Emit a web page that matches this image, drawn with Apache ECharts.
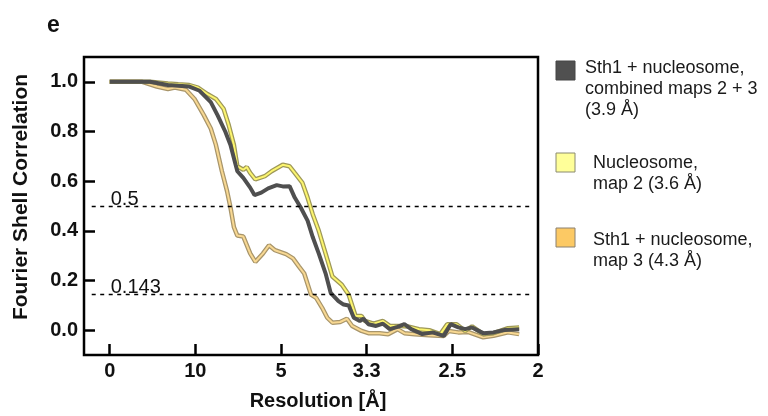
<!DOCTYPE html>
<html>
<head>
<meta charset="utf-8">
<script src="https://cdn.jsdelivr.net/npm/echarts@6.0.0/dist/echarts.min.js"></script>
<style>
  html, body { margin: 0; padding: 0; background: #fff; }
  #fsc { width: 768px; height: 416px; }
</style>
</head>
<body>
<div id="fsc"></div>
<script>
// spatial frequency (1/Å) and FSC values
var freqCombined = [0, 0.047, 0.068, 0.080, 0.093, 0.105, 0.118, 0.126, 0.135, 0.141, 0.147, 0.149, 0.156, 0.164, 0.169, 0.177, 0.185, 0.195, 0.202, 0.210, 0.216, 0.223, 0.231, 0.237, 0.244, 0.252, 0.258, 0.267, 0.273, 0.279, 0.285, 0.292, 0.296, 0.302, 0.311, 0.319, 0.327, 0.336, 0.344, 0.352, 0.365, 0.377, 0.390, 0.398, 0.407, 0.415, 0.423, 0.436, 0.448, 0.461, 0.478];
var fscCombined = [1.0, 1.0, 0.987, 0.984, 0.981, 0.964, 0.918, 0.865, 0.799, 0.746, 0.666, 0.640, 0.613, 0.574, 0.544, 0.554, 0.571, 0.584, 0.579, 0.580, 0.534, 0.494, 0.441, 0.375, 0.309, 0.229, 0.150, 0.117, 0.103, 0.099, 0.050, 0.037, 0.046, 0.024, 0.017, 0.026, 0.004, 0.013, 0.024, 0.004, -0.016, -0.009, -0.023, 0.024, 0.011, 0.004, 0.011, -0.012, -0.009, 0.001, 0.004];

var freqMap2 = [0, 0.047, 0.068, 0.080, 0.093, 0.103, 0.114, 0.124, 0.133, 0.139, 0.145, 0.149, 0.156, 0.160, 0.164, 0.170, 0.181, 0.189, 0.202, 0.210, 0.216, 0.225, 0.231, 0.237, 0.244, 0.252, 0.260, 0.271, 0.279, 0.287, 0.294, 0.298, 0.308, 0.319, 0.327, 0.340, 0.348, 0.361, 0.373, 0.386, 0.394, 0.405, 0.415, 0.423, 0.436, 0.448, 0.465, 0.478];
var fscMap2 = [1.0, 1.0, 0.993, 0.990, 0.987, 0.977, 0.951, 0.931, 0.891, 0.825, 0.746, 0.660, 0.646, 0.657, 0.633, 0.607, 0.620, 0.640, 0.666, 0.660, 0.633, 0.593, 0.534, 0.467, 0.401, 0.309, 0.216, 0.183, 0.143, 0.057, 0.057, 0.037, 0.026, 0.037, 0.017, 0.017, 0.015, 0.004, 0.0, -0.016, 0.024, 0.024, -0.003, 0.015, -0.016, -0.012, 0.008, 0.011];

var freqMap3 = [0, 0.038, 0.055, 0.068, 0.076, 0.089, 0.099, 0.110, 0.118, 0.124, 0.131, 0.137, 0.141, 0.145, 0.149, 0.156, 0.164, 0.170, 0.179, 0.186, 0.193, 0.206, 0.214, 0.221, 0.227, 0.235, 0.241, 0.248, 0.254, 0.260, 0.269, 0.277, 0.283, 0.294, 0.302, 0.315, 0.325, 0.336, 0.344, 0.356, 0.373, 0.390, 0.396, 0.407, 0.418, 0.436, 0.448, 0.465, 0.478];
var fscMap3 = [1.0, 1.0, 0.981, 0.971, 0.977, 0.968, 0.931, 0.865, 0.812, 0.746, 0.640, 0.560, 0.494, 0.415, 0.381, 0.377, 0.309, 0.275, 0.309, 0.342, 0.322, 0.306, 0.289, 0.256, 0.229, 0.143, 0.130, 0.090, 0.050, 0.030, 0.033, 0.046, 0.017, -0.003, -0.012, -0.012, -0.016, 0.004, -0.012, -0.016, -0.020, -0.023, -0.003, -0.009, -0.007, -0.029, -0.023, -0.009, -0.016];

var xTickValues = [0, 0.1, 0.2, 0.3, 0.4, 0.5];
var xTickLabels = ['0', '10', '5', '3.3', '2.5', '2'];
var yTickValues = [0, 0.2, 0.4, 0.6, 0.8, 1.0];

var thresholds = [0.5, 0.143];
var thresholdLabels = ['0.5', '0.143'];

var legendNames = [
    'Sth1 + nucleosome,\ncombined maps 2 + 3\n(3.9 Å)',
    'Nucleosome,\nmap 2 (3.6 Å)',
    'Sth1 + nucleosome,\nmap 3 (4.3 Å)'
];

var FONT = '"Liberation Sans", Arial, Helvetica, sans-serif';

function pairs(xs, ys) {
    var out = [];
    for (var i = 0; i < Math.min(xs.length, ys.length); i++) out.push([xs[i], ys[i]]);
    return out;
}

var chartDom = document.getElementById('fsc');
var chart = echarts.init(chartDom);

var thresholdLines = thresholds.map(function (t, i) {
    return [
        { coord: [-0.021, t], label: { formatter: thresholdLabels[i] } },
        { coord: [0.4935, t] }
    ];
});

function legendItem(top, textTop, textLeft, fill, stroke, name) {
    return {
        type: 'group',
        children: [
            {
                type: 'rect',
                shape: { x: 556, y: top, width: 19, height: 19 },
                style: { fill: fill, stroke: stroke, lineWidth: 1 }
            },
            {
                type: 'text',
                x: textLeft,
                y: textTop,
                style: {
                    text: name,
                    font: '18px ' + FONT,
                    fill: '#1a1a1a',
                    lineHeight: 21
                }
            }
        ]
    };
}

var option = {
    animation: false,
    backgroundColor: '#fff',
    grid: {
        left: 84, right: 230, top: 57, bottom: 57,
        show: true, borderColor: '#000', borderWidth: 2.5
    },
    xAxis: {
        type: 'value',
        min: -0.03, max: 0.5,
        name: 'Resolution [Å]',
        nameLocation: 'middle',
        nameGap: 36,
        nameTextStyle: { fontFamily: FONT, fontWeight: 'bold', fontSize: 20, color: '#111', padding: [0, 0, 0, 14] },
        axisLine: { show: false, onZero: false },
        splitLine: { show: false },
        axisTick: {
            show: true, inside: true, length: 11,
            customValues: xTickValues,
            lineStyle: { color: '#000', width: 2.5 }
        },
        axisLabel: {
            customValues: xTickValues,
            margin: 6,
            fontFamily: FONT, fontWeight: 'bold', fontSize: 20, color: '#111',
            formatter: function (v) {
                for (var i = 0; i < xTickValues.length; i++) {
                    if (Math.abs(xTickValues[i] - v) < 1e-6) return xTickLabels[i];
                }
                return '';
            }
        }
    },
    yAxis: {
        type: 'value',
        min: -0.1, max: 1.1,
        name: 'Fourier Shell Correlation',
        nameLocation: 'middle',
        nameGap: 52,
        nameTextStyle: { fontFamily: FONT, fontWeight: 'bold', fontSize: 21, color: '#111', padding: [0, 0, 0, 18] },
        axisLine: { show: false, onZero: false },
        splitLine: { show: false },
        axisTick: {
            show: true, inside: true, length: 11,
            customValues: yTickValues,
            lineStyle: { color: '#000', width: 2.5 }
        },
        axisLabel: {
            customValues: yTickValues,
            margin: 6,
            fontFamily: FONT, fontWeight: 'bold', fontSize: 20, color: '#111',
            formatter: function (v) { return v.toFixed(1); }
        }
    },
    series: [
        {
            name: 'map3-edge', type: 'line', showSymbol: false, symbol: 'none',
            data: pairs(freqMap3, fscMap3),
            lineStyle: { color: '#a8956a', width: 4.5 }
        },
        {
            name: 'map3', type: 'line', showSymbol: false, symbol: 'none',
            data: pairs(freqMap3, fscMap3),
            lineStyle: { color: '#f8d892', width: 2 }
        },
        {
            name: 'map2-edge', type: 'line', showSymbol: false, symbol: 'none',
            data: pairs(freqMap2, fscMap2),
            lineStyle: { color: '#9e9858', width: 4.5 }
        },
        {
            name: 'map2', type: 'line', showSymbol: false, symbol: 'none',
            data: pairs(freqMap2, fscMap2),
            lineStyle: { color: '#fcf56e', width: 2 }
        },
        {
            name: 'combined', type: 'line', showSymbol: false, symbol: 'none',
            data: pairs(freqCombined, fscCombined),
            lineStyle: { color: '#4f4f4f', width: 4 },
            markLine: {
                silent: true,
                symbol: 'none',
                lineStyle: { color: '#000', type: [4, 4.5], width: 1.3 },
                label: {
                    show: true,
                    position: 'insideStartTop',
                    distance: [19, -3],
                    fontFamily: FONT, fontSize: 20, color: '#111'
                },
                data: thresholdLines
            }
        }
    ],
    graphic: [
        {
            type: 'text', x: 47, y: 14,
            style: { text: 'e', font: 'bold 23px ' + FONT, fill: '#111' }
        },
        legendItem(61, 58, 585, '#505050', '#444', legendNames[0]),
        legendItem(153, 153, 593, '#ffff99', '#8a8a70', legendNames[1]),
        legendItem(228, 230, 593, '#fcc964', '#8a8070', legendNames[2])
    ]
};

chart.setOption(option);

new ResizeObserver(function () { chart.resize(); }).observe(chartDom);
</script>
</body>
</html>
